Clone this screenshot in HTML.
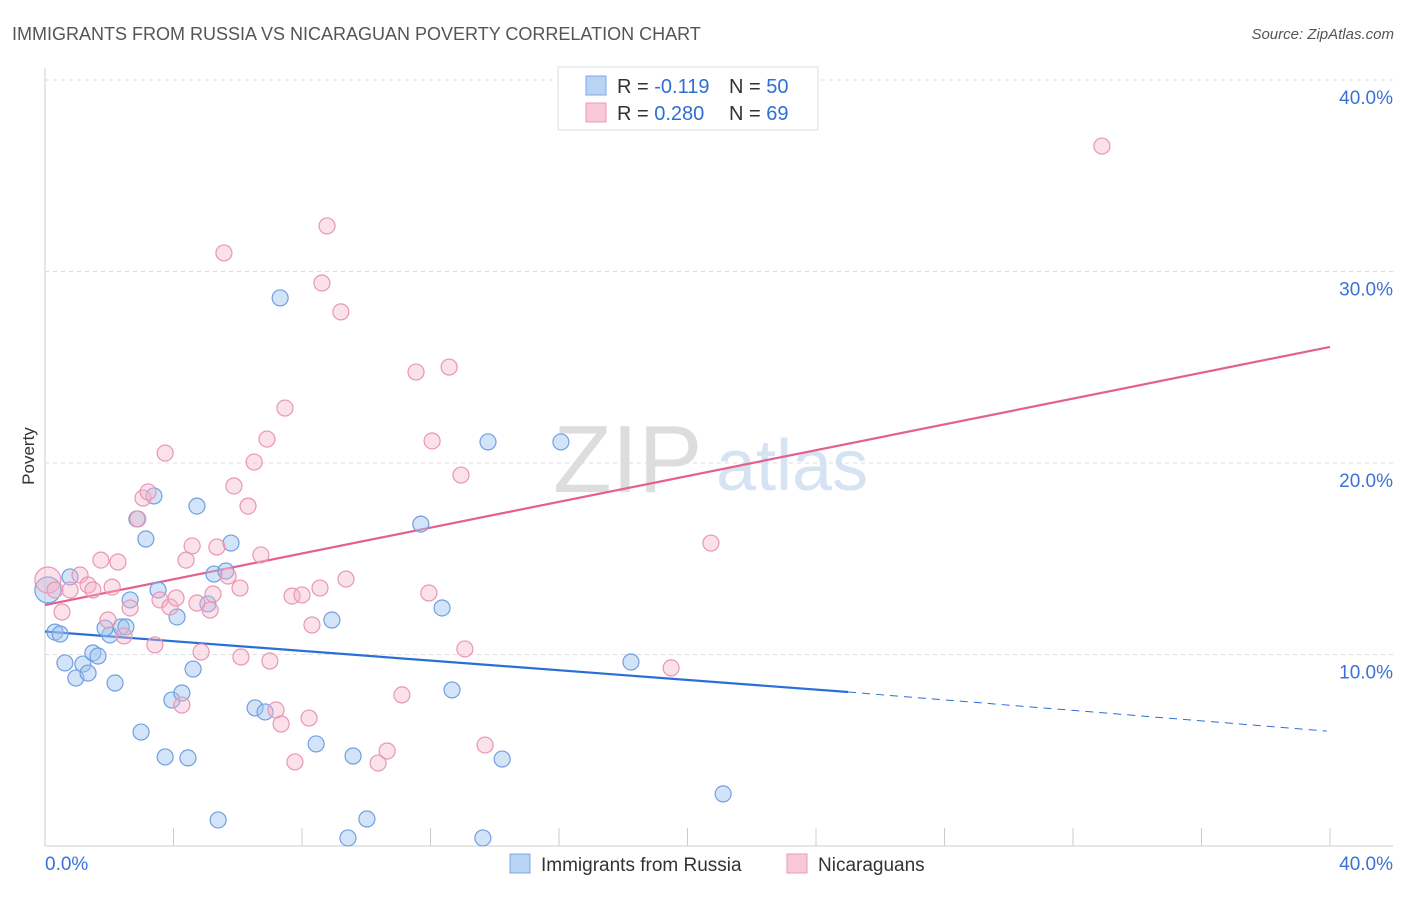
<!DOCTYPE html>
<html><head><meta charset="utf-8"><style>
body{margin:0;background:#fff;font-family:"Liberation Sans",sans-serif;}
svg text{font-family:"Liberation Sans",sans-serif;}
</style></head><body>
<svg id="chart" width="1406" height="892" xmlns="http://www.w3.org/2000/svg">
<text x="12" y="40" font-size="18" fill="#555">IMMIGRANTS FROM RUSSIA VS NICARAGUAN POVERTY CORRELATION CHART</text>
<text x="1394" y="39" font-size="15" fill="#555" text-anchor="end" font-style="italic">Source: ZipAtlas.com</text>
<text x="553" y="492" font-size="96" fill="#ddd" font-family="Liberation Serif">ZIP</text>
<text x="716" y="490" font-size="72" fill="#d5e3f3">atlas</text>
<text x="34" y="456" font-size="17" fill="#333" transform="rotate(-90 34 456)" text-anchor="middle">Poverty</text>
<g id="grid"></g><g id="ticks"></g><g id="lines"></g><g id="points"></g>
<g>
<rect x="558" y="67" width="260" height="63" fill="#fff" stroke="#ddd"/>
<rect x="586" y="76" width="20" height="19" fill="#b9d3f5" stroke="#7ea8e0"/>
<rect x="586" y="103" width="20" height="19" fill="#f9c8d8" stroke="#eb9ab5"/>
<text x="617" y="93" font-size="20" fill="#333">R = <tspan fill="#2d6fd6">-0.119</tspan></text>
<text x="729" y="93" font-size="20" fill="#333">N = <tspan fill="#2d6fd6">50</tspan></text>
<text x="617" y="120" font-size="20" fill="#333">R = <tspan fill="#2d6fd6">0.280</tspan></text>
<text x="729" y="120" font-size="20" fill="#333">N = <tspan fill="#2d6fd6">69</tspan></text>
</g>
<g>
<rect x="510" y="854" width="20" height="19" fill="#b9d3f5" stroke="#7ea8e0"/>
<text x="541" y="871" font-size="19" fill="#333">Immigrants from Russia</text>
<rect x="787" y="854" width="20" height="19" fill="#f9c8d8" stroke="#eb9ab5"/>
<text x="818" y="871" font-size="19" fill="#333">Nicaraguans</text>
</g>
</svg>
<script>
const xTickLabels=["0.0%","40.0%"];
const yTicks=[10,20,30,40];
const blueX=[.09,.31,.47,.78,.62,.96,1.18,1.34,1.49,1.65,2.18,2.02,1.87,2.37,2.52,2.65,2.86,3.14,3.39,2.99,3.52,3.74,3.95,4.11,4.26,4.45,4.61,4.73,5.07,5.26,5.39,5.63,5.79,6.54,6.85,7.32,8.44,8.93,9.43,9.59,10.02,11.70,12.36,12.67,13.63,13.79,14.23,16.06,18.24,21.11];
const blueY=[13.37,11.17,11.07,14.05,9.56,8.77,9.50,9.03,10.08,9.92,8.51,11.02,11.38,11.44,11.44,12.85,17.08,16.03,18.28,5.95,13.37,4.65,7.62,11.96,7.99,4.60,9.24,17.75,12.64,14.20,1.36,14.36,15.82,7.21,7.00,28.62,5.33,11.80,0.42,4.70,1.41,16.81,12.43,8.15,0.42,21.10,4.54,21.10,9.61,2.72];
const pinkX=[.09,.31,.53,.78,1.09,1.34,1.49,1.74,1.96,2.09,2.27,2.46,2.65,2.89,3.05,3.21,3.42,3.58,3.74,3.89,4.08,4.26,4.39,4.58,4.73,4.86,5.14,5.23,5.35,5.57,5.70,5.88,6.07,6.10,6.32,6.51,6.72,6.91,7.00,7.19,7.35,7.47,7.69,7.78,8.00,8.22,8.31,8.56,8.62,8.78,9.21,9.37,10.37,10.65,11.11,11.55,11.95,12.05,12.58,12.95,13.07,13.70,19.49,20.73,32.90];
const pinkY=[13.89,13.37,12.22,13.37,14.15,13.63,13.37,14.93,11.80,13.52,14.83,10.97,12.43,17.08,18.17,18.49,10.50,12.85,20.52,12.48,12.95,7.36,14.93,15.67,12.69,10.13,12.32,13.16,15.61,30.97,14.10,18.80,13.47,9.87,17.75,20.05,15.20,21.25,9.66,7.10,6.37,22.87,13.05,4.39,13.11,6.68,11.54,13.47,29.40,32.38,27.89,13.94,4.33,4.96,7.89,24.75,13.21,21.15,25.01,19.37,10.29,5.27,9.30,15.82,36.55];
const blueTrend=[[0,11.2],[25,8.04],[39.9,6.0]];
const pinkTrend=[[0,12.58],[40,26.06]];
const X=v=>45+v*32.125, Y=v=>846-v*19.15;
const NS="http://www.w3.org/2000/svg";
function mk(parent,tag,attrs){const e=document.createElementNS(NS,tag);for(const k in attrs)e.setAttribute(k,attrs[k]);document.getElementById(parent).appendChild(e);return e;}
let e=mk('grid','line',{x1:45,y1:846,x2:1393,y2:846,stroke:'#ccc'});


e=mk('grid','line',{x1:45,y1:68,x2:45,y2:846,stroke:'#ccc'});


yTicks.forEach(t=>{
 let g=mk('grid','line',{x1:45,y1:Y(t),x2:1393,y2:Y(t),stroke:'#ddd','stroke-dasharray':'4,4'});
 
 
 let l=mk('ticks','text',{x:1393,y:Y(t)+24,'font-size':19,fill:'#3a72d8','text-anchor':'end'});
 l.textContent=t.toFixed(1)+'%';
 
 
});
for(let i=0;i<=10;i++){
 let t=mk('ticks','line',{x1:X(i*4),y1:828,x2:X(i*4),y2:846,stroke:'#ccc'});
 
 
}
[[0,'start',45],[1,'end',1393]].forEach(([i,a,x])=>{
 let l=mk('ticks','text',{x:x,y:870,'font-size':19,fill:'#3a72d8','text-anchor':a});
 l.textContent=xTickLabels[i];
 
 
});
blueX.forEach((v,i)=>{
 let c=mk('points','circle',{cx:X(v),cy:Y(blueY[i]),r:i==0?13:8,fill:'rgba(160,195,240,0.45)',stroke:'#6f9fe0','stroke-width':1.2});
 
 
});
pinkX.forEach((v,i)=>{
 let c=mk('points','circle',{cx:X(v),cy:Y(pinkY[i]),r:i==0?13:8,fill:'rgba(245,180,200,0.4)',stroke:'#e996b2','stroke-width':1.2});
 
 
});
let b1=mk('lines','line',{x1:X(blueTrend[0][0]),y1:Y(blueTrend[0][1]),x2:X(blueTrend[1][0]),y2:Y(blueTrend[1][1]),stroke:'#2a6fd6','stroke-width':2.2});


let b2=mk('lines','line',{x1:X(blueTrend[1][0]),y1:Y(blueTrend[1][1]),x2:X(blueTrend[2][0]),y2:Y(blueTrend[2][1]),stroke:'#2a6fd6','stroke-width':1,'stroke-dasharray':'8,6'});


let p1=mk('lines','line',{x1:X(pinkTrend[0][0]),y1:Y(pinkTrend[0][1]),x2:X(pinkTrend[1][0]),y2:Y(pinkTrend[1][1]),stroke:'#e4608e','stroke-width':2.2});


</script>
</body></html>
